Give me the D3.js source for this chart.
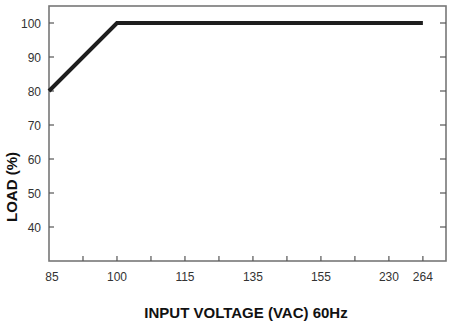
<!DOCTYPE html>
<html>
<head>
<meta charset="utf-8">
<script src="https://cdn.jsdelivr.net/npm/d3@7"></script>
<style>
  body { margin: 0; background: #fff; }
  svg text { font-family: "Liberation Sans", Arial, sans-serif; fill: #333; }
</style>
</head>
<body>
<svg id="chart" width="455" height="331"></svg>
<script>
// voltage tick labels and the grid slot each one sits on
const voltageTicks = [85, 100, 115, 135, 155, 230, 264];
const voltageSlots = [0, 2, 4, 6, 8, 10, 11];
const minorSlots = d3.range(1, 12);

const loadTicks = [40, 50, 60, 70, 80, 90, 100];

// derating curve
const curveVoltage = [85, 100, 264];
const curveLoad = [80, 100, 100];

const svg = d3.select("#chart");
const plotLeft = 49, plotRight = 446, plotTop = 6, plotBottom = 261;

let slot = d3.scaleLinear().domain(voltageTicks).range(voltageSlots);
let x = d3.scaleLinear().domain([0, 11.68]).range([plotLeft, plotRight]);
let y = d3.scaleLinear().domain([30, 105]).range([plotBottom, plotTop]);

// frame
svg.append("rect")
  .attr("x", plotLeft).attr("y", plotTop)
  .attr("width", plotRight - plotLeft).attr("height", plotBottom - plotTop)
  .attr("fill", "none")
  .attr("stroke", "#777")
  .attr("stroke-width", 1.6);

// bottom ticks (inward)
svg.selectAll(".xtick")
  .data(minorSlots)
  .enter()
  .append("line")
  .attr("x1", (d) => x(d)).attr("x2", (d) => x(d))
  .attr("y1", plotBottom).attr("y2", plotBottom - 5)
  .attr("stroke", "#555").attr("stroke-width", 1.2);

svg.selectAll(".xlabel")
  .data(voltageTicks)
  .enter()
  .append("text")
  .attr("x", (d) => x(slot(d)) + (d === 85 ? 3 : 0))
  .attr("y", 281)
  .attr("text-anchor", "middle")
  .attr("font-size", 12)
  .text((d) => d);

// left and right ticks (inward)
svg.selectAll(".yltick")
  .data(loadTicks)
  .enter()
  .append("line")
  .attr("x1", plotLeft).attr("x2", plotLeft + 5)
  .attr("y1", (d) => y(d)).attr("y2", (d) => y(d))
  .attr("stroke", "#555").attr("stroke-width", 1.2);

svg.selectAll(".yrtick")
  .data(loadTicks)
  .enter()
  .append("line")
  .attr("x1", plotRight).attr("x2", plotRight - 6)
  .attr("y1", (d) => y(d)).attr("y2", (d) => y(d))
  .attr("stroke", "#555").attr("stroke-width", 1.2);

svg.selectAll(".ylabel")
  .data(loadTicks)
  .enter()
  .append("text")
  .attr("x", 41)
  .attr("y", (d) => y(d) + 4.5)
  .attr("text-anchor", "end")
  .attr("font-size", 12)
  .text((d) => d);

// curve
let line = d3.line()
  .x((d) => x(slot(d[0])))
  .y((d) => y(d[1]));

svg.append("path")
  .datum(d3.zip(curveVoltage, curveLoad))
  .attr("d", line)
  .attr("fill", "none")
  .attr("stroke", "#1e1e1e")
  .attr("stroke-width", 4);

// titles
svg.append("text")
  .attr("x", 246).attr("y", 318)
  .attr("text-anchor", "middle")
  .attr("font-size", 15)
  .attr("font-weight", "bold")
  .style("fill", "#111")
  .text("INPUT VOLTAGE (VAC) 60Hz");

svg.append("text")
  .attr("transform", "translate(17,187) rotate(-90)")
  .attr("text-anchor", "middle")
  .attr("font-size", 15)
  .attr("font-weight", "bold")
  .style("fill", "#111")
  .text("LOAD (%)");
</script>
</body>
</html>
